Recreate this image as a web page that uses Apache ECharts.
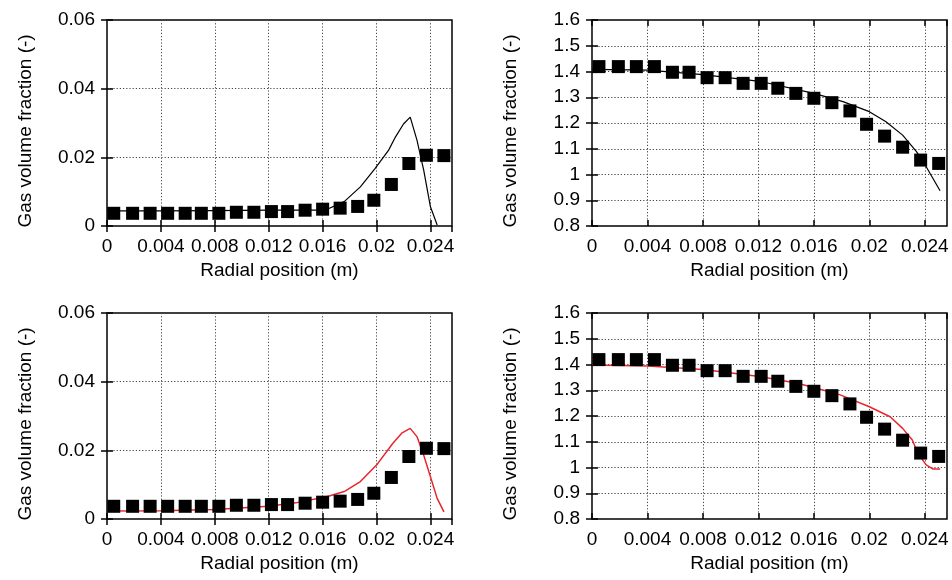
<!DOCTYPE html>
<html>
<head>
<meta charset="utf-8">
<script src="https://cdn.jsdelivr.net/npm/echarts@6/dist/echarts.min.js"></script>
<style>html,body{margin:0;padding:0;background:#fff;}#c{width:952px;height:580px;}</style>
</head>
<body>
<div id="c"></div>
<script>
// Experimental radial positions (m)
const expX = [0.0005, 0.0019, 0.0032, 0.0045, 0.0058, 0.0070, 0.0083, 0.0096, 0.0109, 0.0122,
              0.0134, 0.0147, 0.0160, 0.0173, 0.0186, 0.0198, 0.0211, 0.0224, 0.0237, 0.0250];
// Experimental gas volume fraction, left panels
const expLeft = [0.0037, 0.0037, 0.0037, 0.0037, 0.0037, 0.0037, 0.0037, 0.0040, 0.0040, 0.0042,
                 0.0042, 0.0046, 0.0049, 0.0052, 0.0057, 0.0075, 0.0121, 0.0182, 0.0206, 0.0205];
// Experimental values, right panels
const expRight = [1.419, 1.419, 1.419, 1.419, 1.397, 1.397, 1.376, 1.376, 1.354, 1.354,
                  1.335, 1.315, 1.296, 1.279, 1.247, 1.195, 1.149, 1.106, 1.056, 1.043];

// Model curve, top-left (black)
const modelTLx = [0, 0.004, 0.008, 0.012, 0.0155, 0.0163, 0.0176, 0.0188, 0.0199, 0.0209, 0.0214, 0.0220, 0.0225, 0.0230, 0.0235, 0.0240, 0.0245];
const modelTLy = [0.0044, 0.0044, 0.0045, 0.0046, 0.0046, 0.0048, 0.0071, 0.0114, 0.0168, 0.0221, 0.0259, 0.0297, 0.0317, 0.0250, 0.0163, 0.0056, 0.0003];
// Model curve, top-right (black)
const modelTRx = [0, 0.004, 0.008, 0.0121, 0.0160, 0.0181, 0.0200, 0.0212, 0.0224, 0.0234, 0.0241, 0.0251];
const modelTRy = [1.408, 1.405, 1.388, 1.362, 1.315, 1.283, 1.244, 1.205, 1.153, 1.089, 1.030, 0.937];
// Model curve, bottom-left (red)
const modelBLx = [0, 0.004, 0.008, 0.012, 0.014, 0.0163, 0.0176, 0.0188, 0.0200, 0.0212, 0.0219, 0.0225, 0.0230, 0.0235, 0.0240, 0.0245, 0.0250];
const modelBLy = [0.0023, 0.0024, 0.0028, 0.0037, 0.0047, 0.0065, 0.0080, 0.0109, 0.0157, 0.0220, 0.0251, 0.0264, 0.0240, 0.0186, 0.0123, 0.0060, 0.0021];
// Model curve, bottom-right (red)
const modelBRx = [0, 0.004, 0.008, 0.0121, 0.0148, 0.0160, 0.0179, 0.0200, 0.0215, 0.0224, 0.0231, 0.0235, 0.0241, 0.0246, 0.0251];
const modelBRy = [1.398, 1.394, 1.381, 1.353, 1.327, 1.311, 1.282, 1.236, 1.197, 1.152, 1.107, 1.055, 1.010, 0.994, 0.994];

const xTitle = 'Radial position (m)';
const yTitle = 'Gas volume fraction (-)';

const FONT = 'Liberation Sans, Arial, Helvetica, sans-serif';
const FS = 19;

const panels = [
  {grid: {left: 107, top: 20, width: 345, height: 206}, ymin: 0, ymax: 0.06, yint: 0.02, exp: expLeft, mx: modelTLx, my: modelTLy, color: '#000', lw: 1.2},
  {grid: {left: 592, top: 20, width: 355, height: 206}, ymin: 0.8, ymax: 1.6, yint: 0.1, exp: expRight, mx: modelTRx, my: modelTRy, color: '#000', lw: 1.2},
  {grid: {left: 107, top: 313, width: 345, height: 206}, ymin: 0, ymax: 0.06, yint: 0.02, exp: expLeft, mx: modelBLx, my: modelBLy, color: '#e8272c', lw: 1.5},
  {grid: {left: 592, top: 313, width: 355, height: 206}, ymin: 0.8, ymax: 1.6, yint: 0.1, exp: expRight, mx: modelBRx, my: modelBRy, color: '#e8272c', lw: 1.5}
];

const grids = [], xAxes = [], yAxes = [], series = [];
const tick = {show: true, inside: true, length: 6, lineStyle: {color: '#000', width: 1.5}};
const split = {show: true, lineStyle: {color: '#444', type: [1.2, 2], width: 1}};

panels.forEach((p, i) => {
  grids.push(Object.assign({show: true, borderColor: '#000', borderWidth: 1.5, backgroundColor: 'transparent', containLabel: false}, p.grid));
  const xb = {
    type: 'value', gridIndex: i, position: 'bottom', min: 0, max: 0.0256, interval: 0.004,
    axisLine: {show: false}, axisTick: tick, splitLine: split,
    axisLabel: {show: true, showMaxLabel: false, color: '#000', fontSize: FS, fontFamily: FONT, margin: 11,
      formatter: v => (Math.abs(v / 0.004 - Math.round(v / 0.004)) < 1e-6 ? String(+v.toFixed(4)) : '')},
    name: xTitle, nameLocation: 'middle', nameGap: 35,
    nameTextStyle: {color: '#000', fontSize: FS, fontFamily: FONT}
  };
  const xt = {
    type: 'value', gridIndex: i, position: 'top', min: 0, max: 0.0256, interval: 0.004,
    axisLine: {show: false}, axisTick: tick, splitLine: {show: false}, axisLabel: {show: false}
  };
  const yl = {
    type: 'value', gridIndex: i, position: 'left', min: p.ymin, max: p.ymax, interval: p.yint,
    axisLine: {show: false}, axisTick: tick, splitLine: split,
    axisLabel: {show: true, color: '#000', fontSize: FS, fontFamily: FONT, margin: 12,
      formatter: v => String(+v.toFixed(3))},
    name: yTitle, nameLocation: 'middle', nameGap: 72, nameRotate: 90,
    nameTextStyle: {color: '#000', fontSize: FS, fontFamily: FONT, padding: [0, 16, 0, 0]}
  };
  const yr = {
    type: 'value', gridIndex: i, position: 'right', min: p.ymin, max: p.ymax, interval: p.yint,
    axisLine: {show: false}, axisTick: tick, splitLine: {show: false}, axisLabel: {show: false}
  };
  const xi = xAxes.length, yi = yAxes.length;
  xAxes.push(xb, xt);
  yAxes.push(yl, yr);
  series.push({
    type: 'line', xAxisIndex: xi, yAxisIndex: yi, showSymbol: false, symbol: 'none',
    data: p.mx.map((x, k) => [x, p.my[k]]),
    lineStyle: {color: p.color, width: p.lw}, z: 2, animation: false
  });
  series.push({
    type: 'scatter', xAxisIndex: xi, yAxisIndex: yi, symbol: 'rect', symbolSize: 13,
    data: expX.map((x, k) => [x, p.exp[k]]),
    itemStyle: {color: '#000', opacity: 1}, z: 3, animation: false
  });
});

const chart = echarts.init(document.getElementById('c'), null, {renderer: 'canvas'});
chart.setOption({animation: false, backgroundColor: '#fff', grid: grids, xAxis: xAxes, yAxis: yAxes, series: series});
</script>
</body>
</html>
